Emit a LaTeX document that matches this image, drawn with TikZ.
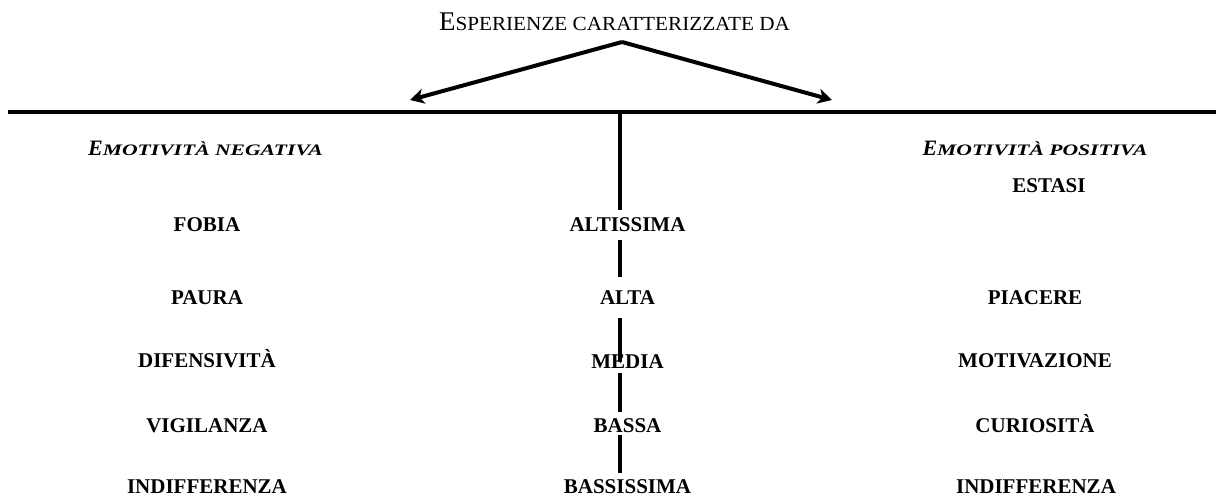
\documentclass[tikz,border=0pt]{standalone}
\usepackage{fontspec}
\setmainfont{Liberation Serif}
\usepackage{graphicx}
\usetikzlibrary{arrows.meta}
\newcommand\fakesc[3]{\scalebox{#2}[1]{\fontsize{#1}{#1}\selectfont #3}}
\begin{document}
\begin{tikzpicture}[x=1pt,y=-1pt,
  lbl/.style={anchor=base,inner sep=0pt,font=\fontsize{21}{21}\selectfont\bfseries},
  head/.style={anchor=base west,inner sep=0pt,font=\fontsize{22}{22}\selectfont\bfseries\itshape},
  rule/.style={line width=4pt},
  seg/.style={line width=4pt},
  arr/.style={line width=4pt,-{Stealth[length=14pt,width=15pt,inset=4pt]}}]
\useasboundingbox (0,0) rectangle (1216,497);

% title
\node[anchor=base,inner sep=0pt] (title) at (614.5,31)
  {\fontsize{27}{27}\selectfont E\fakesc{20}{1.06}{SPERIENZE CARATTERIZZATE DA}};

% arrows and rules
\coordinate (apex) at (622,42);
\coordinate (la) at (410,100);
\coordinate (ra) at (832,100);
\draw[arr] (apex) -- (la);
\draw[arr] (apex) -- (ra);
\coordinate (hl) at (8,112);
\coordinate (hr) at (1216,112);
\draw[rule] (hl) -- (hr);

% central vertical segments
\coordinate (v0) at (620,112);
\coordinate (v1) at (620,210);
\coordinate (v2) at (620,240);
\coordinate (v3) at (620,277);
\coordinate (v4) at (620,318);
\coordinate (v5) at (620,362);
\coordinate (v6) at (620,373);
\coordinate (v7) at (620,412);
\coordinate (v8) at (620,435);
\coordinate (v9) at (620,473);
\draw[seg] (v0) -- (v1);
\draw[seg] (v2) -- (v3);
\draw[seg] (v4) -- (v5);
\draw[seg] (v6) -- (v7);
\draw[seg] (v8) -- (v9);

% headings
\node[head] (hneg) at (88,155.5) {E\fakesc{16}{1.35}{MOTIVITÀ NEGATIVA}};
\node[head,anchor=base] (hpos) at (1035,156) {E\fakesc{16}{1.35}{MOTIVITÀ POSITIVA}};

% left column
\node[lbl] (fobia) at (207,232) {FOBIA};
\node[lbl] (paura) at (207,305) {PAURA};
\node[lbl] (difens) at (207,367) {DIFENSIVITÀ};
\node[lbl] (vigil) at (207,432) {VIGILANZA};
\node[lbl] (indiffL) at (207,493) {INDIFFERENZA};

% middle column
\node[lbl] (altissima) at (627.5,232) {ALTISSIMA};
\node[lbl] (alta) at (627.5,304) {ALTA};
\node[lbl] (media) at (627.5,368) {MEDIA};
\node[lbl] (bassa) at (627.5,432) {BASSA};
\node[lbl] (bassissima) at (627.5,493) {BASSISSIMA};

% right column
\node[lbl] (estasi) at (1049,193) {ESTASI};
\node[lbl] (piacere) at (1035,305) {PIACERE};
\node[lbl] (motiv) at (1035,367) {MOTIVAZIONE};
\node[lbl] (curios) at (1035,432) {CURIOSITÀ};
\node[lbl] (indiffR) at (1036,493) {INDIFFERENZA};
\end{tikzpicture}
\end{document}
